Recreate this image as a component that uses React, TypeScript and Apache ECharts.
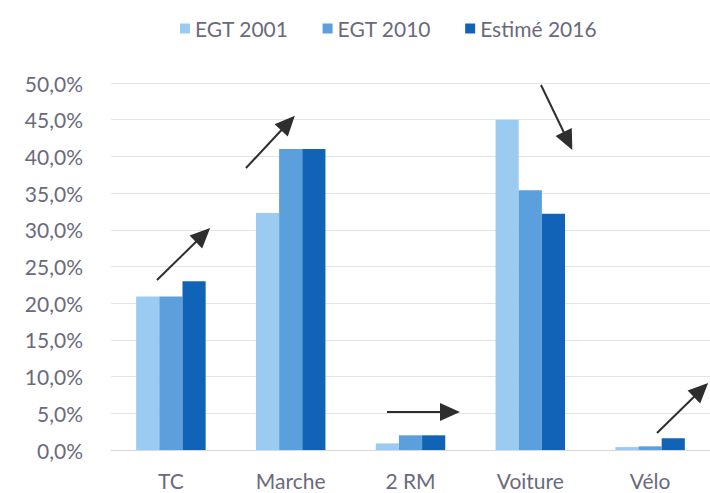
import React, { useEffect, useRef } from "react";
import * as echarts from "echarts";

const categories = ["TC", "Marche", "2 RM", "Voiture", "Vélo"];
const seriesNames = ["EGT 2001", "EGT 2010", "Estimé 2016"];
const egt2001 = [20.9, 32.3, 0.9, 45.0, 0.4];
const egt2010 = [20.9, 41.0, 2.0, 35.4, 0.5];
const estime2016 = [23.0, 41.0, 2.0, 32.2, 1.6];
const colors = ["#9bcbf0", "#5b9fdc", "#1063b6"];

// annotation arrows (pixel positions of the hand-drawn arrows; end = arrowhead centre)
const arrows = [
  [[157, 280], [203, 235]],
  [[246, 168], [288, 123]],
  [[541, 85], [568, 141]],
  [[387, 412], [450, 412]],
  [[657, 433], [701, 390]],
];

const FONT = "Lato, 'Open Sans', sans-serif";
const TEXT_COLOR = "#6a6a7c";

export default function App() {
  const ref = useRef<HTMLDivElement>(null);
  useEffect(() => {
    if (!ref.current) return;
    const chart = echarts.init(ref.current, undefined, { renderer: "svg" });
    const data = [egt2001, egt2010, estime2016];
    chart.setOption({
      animation: false,
      backgroundColor: "#ffffff",
      textStyle: { fontFamily: FONT },
      legend: {
        top: 13,
        left: 175,
        icon: "rect",
        itemWidth: 10,
        itemHeight: 10,
        itemGap: 34,
        textStyle: { fontFamily: FONT, fontSize: 21, color: TEXT_COLOR },
        data: seriesNames,
      },
      grid: { left: 111, right: -27, top: 83, bottom: 43, containLabel: false },
      xAxis: {
        type: "category",
        data: categories,
        axisTick: { show: false },
        axisLine: { show: true, lineStyle: { color: "#d9d9d9", width: 1 } },
        axisLabel: { fontFamily: FONT, fontSize: 21, color: TEXT_COLOR, margin: 20 },
      },
      yAxis: {
        type: "value",
        min: 0,
        max: 50,
        interval: 5,
        axisLine: { show: false },
        axisTick: { show: false },
        splitLine: { lineStyle: { color: "#e3e3e8", width: 1 } },
        axisLabel: {
          fontFamily: FONT,
          fontSize: 21,
          color: TEXT_COLOR,
          margin: 28,
          formatter: (v: number) => v.toFixed(1).replace(".", ",") + "%",
        },
      },
      series: seriesNames.map((name, i) => ({
        name,
        type: "bar",
        data: data[i],
        barGap: "0%",
        barCategoryGap: "42%",
        itemStyle: { color: colors[i] },
        ...(i === 2
          ? {
              markLine: {
                silent: true,
                symbol: ["none", "triangle"],
                symbolSize: [18, 20],
                label: { show: false },
                lineStyle: { color: "#2e2e2e", width: 2, type: "solid" },
                data: arrows.map(([a, b]) => [
                  { x: a[0], y: a[1] },
                  { x: b[0], y: b[1] },
                ]),
              },
            }
          : {}),
      })),
    });
    return () => chart.dispose();
  }, []);
  return <div ref={ref} style={{ width: 710, height: 493, position: "absolute", left: 0, top: 0 }} />;
}
